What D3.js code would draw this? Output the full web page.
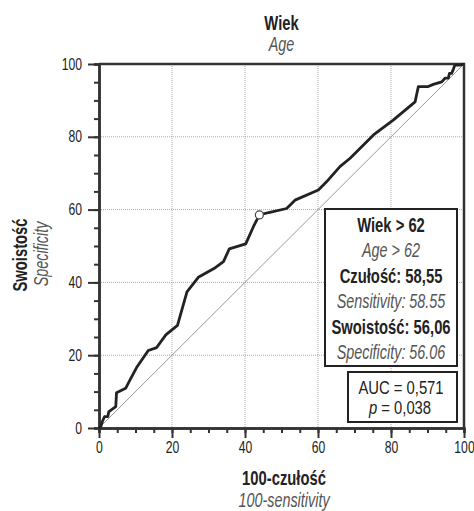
<!DOCTYPE html>
<html>
<head>
<meta charset="utf-8">
<script src="https://cdn.jsdelivr.net/npm/d3@7"></script>
<style>
  body { margin: 0; background: #fff; }
  svg text { font-family: "Liberation Sans", Arial, sans-serif; }
  .bold { font-weight: bold; fill: #222; }
  .reg { fill: #222; }
  .it { font-style: italic; fill: #555; }
</style>
</head>
<body>
<div id="container"></div>
<script>
// ROC curve points: x = 100-sensitivity, y = specificity
let rocX = [0, 0.5, 0.9, 1.5, 2.4, 2.7, 4.6, 4.8, 7.3, 8.5, 10.3, 13.5, 15.8, 18.3, 21.5, 24.1, 27.2, 31.5, 34.1, 35.7, 40.2, 42.3, 43.94, 46.5, 51.4, 53.7, 60.1, 62.4, 66, 68.8, 75.2, 80.6, 86.6, 87.5, 90.2, 91.6, 93.9, 94.8, 95.7, 96, 96.6, 97.1, 97.5, 98.9, 100];
let rocY = [0, 0.4, 1.7, 3.1, 3.1, 4.5, 5.9, 9.7, 10.9, 13.2, 16.6, 21.3, 22.1, 25.6, 28.2, 37.4, 41.4, 43.8, 45.7, 49.2, 50.6, 55.3, 58.55, 59.2, 60.3, 62.6, 65.4, 67.7, 71.8, 74.1, 80.5, 84.6, 89.6, 93.8, 93.8, 94.4, 95.1, 96.1, 96.1, 97.4, 97.4, 98.6, 99.7, 99.7, 100];
let cutX = 43.94, cutY = 58.55;
let majorTicks = [0, 20, 40, 60, 80, 100];
let minorTicks = d3.range(0, 101, 5);
let gridTicks = [20, 40, 60, 80];
let boxLines = [
  {t: "Wiek > 62", c: "bold"},
  {t: "Age > 62", c: "it"},
  {t: "Czułość: 58,55", c: "bold"},
  {t: "Sensitivity: 58.55", c: "it"},
  {t: "Swoistość: 56,06", c: "bold"},
  {t: "Specificity: 56.06", c: "it"}
];

// squeeze factors so Liberation Sans looks like a condensed face
let squeeze = {bold: 0.74, it: 0.72, reg: 0.78, tick: 0.76};

let margin = {top: 64, right: 10, bottom: 83, left: 99},
    width = 474 - margin.left - margin.right,
    height = 511 - margin.top - margin.bottom;

let svg = d3.select('#container')
            .append("svg")
              .attr("width", 474)
              .attr("height", 511);
let graph = svg.append("g")
              .attr("transform", "translate(" + margin.left + "," + margin.top + ")");

function label(parent, x, y, txt, cls, size, rot) {
  return parent.append("text")
    .attr("class", cls)
    .attr("transform", "translate(" + x + "," + y + ")" + (rot ? " rotate(" + rot + ")" : "") + " scale(" + squeeze[cls] + ",1)")
    .attr("text-anchor", "middle")
    .style("font-size", size + "px")
    .text(txt);
}

let xScale = d3.scaleLinear().domain([0, 100]).range([0, width]);
let yScale = d3.scaleLinear().domain([0, 100]).range([height, 0]);

// dotted grid
graph.selectAll(".vgrid").data(gridTicks).enter().append("line")
  .attr("x1", d => xScale(d)).attr("x2", d => xScale(d))
  .attr("y1", 0).attr("y2", height)
  .attr("stroke", "#aaa").attr("stroke-width", 1).attr("stroke-dasharray", "1,1");
graph.selectAll(".hgrid").data(gridTicks).enter().append("line")
  .attr("y1", d => yScale(d)).attr("y2", d => yScale(d))
  .attr("x1", 0).attr("x2", width)
  .attr("stroke", "#aaa").attr("stroke-width", 1).attr("stroke-dasharray", "1,1");

// reference diagonal
graph.append("line")
  .attr("x1", xScale(0)).attr("y1", yScale(0))
  .attr("x2", xScale(100)).attr("y2", yScale(100))
  .attr("stroke", "#999").attr("stroke-width", 1);

// frame top + right
graph.append("path")
  .attr("d", "M0,0H" + width + "V" + height)
  .attr("fill", "none").attr("stroke", "#333").attr("stroke-width", 2.5);

// axes
let xMinor = graph.append("g").attr("transform", "translate(0," + height + ")")
  .call(d3.axisBottom(xScale).tickValues(minorTicks).tickSize(5).tickFormat(""));
let xAxisGroup = graph.append("g").attr("transform", "translate(0," + height + ")")
  .call(d3.axisBottom(xScale).tickValues(majorTicks).tickSize(10).tickSizeOuter(0).tickPadding(4));
let yMinor = graph.append("g")
  .call(d3.axisLeft(yScale).tickValues(minorTicks).tickSize(5).tickFormat(""));
let yAxisGroup = graph.append("g")
  .call(d3.axisLeft(yScale).tickValues(majorTicks).tickSize(11).tickSizeOuter(0).tickPadding(6));

[xMinor, xAxisGroup, yMinor, yAxisGroup].forEach(function(g) {
  g.select(".domain").attr("stroke", "#333").attr("stroke-width", 2.5);
  g.selectAll(".tick line").attr("stroke", "#333").attr("stroke-width", 2);
  g.selectAll(".tick text").attr("fill", "#222").style("font-size", "16px");
});
// condense tick labels too
yAxisGroup.selectAll(".tick text")
  .attr("x", -17 / squeeze.tick)
  .attr("transform", "scale(" + squeeze.tick + ",1)");
xAxisGroup.selectAll(".tick text")
  .attr("transform", "scale(" + squeeze.tick + ",1)");

// ROC curve
let rocData = rocX.map((x, i) => ({x: x, y: rocY[i]}));
let line = d3.line().x(d => xScale(d.x)).y(d => yScale(d.y));
graph.append("path")
  .datum(rocData)
  .attr("d", line)
  .attr("fill", "none")
  .attr("stroke", "#222")
  .attr("stroke-width", 2.8)
  .attr("stroke-linejoin", "round");

graph.append("circle")
  .attr("cx", xScale(cutX)).attr("cy", yScale(cutY)).attr("r", 4)
  .attr("fill", "#fff").attr("stroke", "#444").attr("stroke-width", 1.2);

// cut-off box
let box = svg.append("g");
box.append("rect")
  .attr("x", 325).attr("y", 209).attr("width", 132).attr("height", 157)
  .attr("fill", "#fff").attr("stroke", "#222").attr("stroke-width", 2);
boxLines.forEach(function(d, i) {
  label(box, 391, 232 + i * 25.4, d.t, d.c, 20);
});

// AUC box
let auc = svg.append("g");
auc.append("rect")
  .attr("x", 348).attr("y", 372).attr("width", 109).attr("height", 50)
  .attr("fill", "#fff").attr("stroke", "#222").attr("stroke-width", 2);
label(auc, 401, 394, "AUC = 0,571", "reg", 19);
let pText = label(auc, 400, 414, "", "reg", 19);
pText.append("tspan").style("font-style", "italic").text("p");
pText.append("tspan").text(" = 0,038");

// titles
let cx = margin.left + width / 2;
label(svg, cx, 30, "Wiek", "bold", 20);
label(svg, cx, 51, "Age", "it", 20);

label(svg, 284, 485, "100-czułość", "bold", 20);
label(svg, 284, 507, "100-sensitivity", "it", 20);

label(svg, 27, 255, "Swoistość", "bold", 20, -90);
label(svg, 48, 254, "Specificity", "it", 20, -90);
</script>
</body>
</html>
